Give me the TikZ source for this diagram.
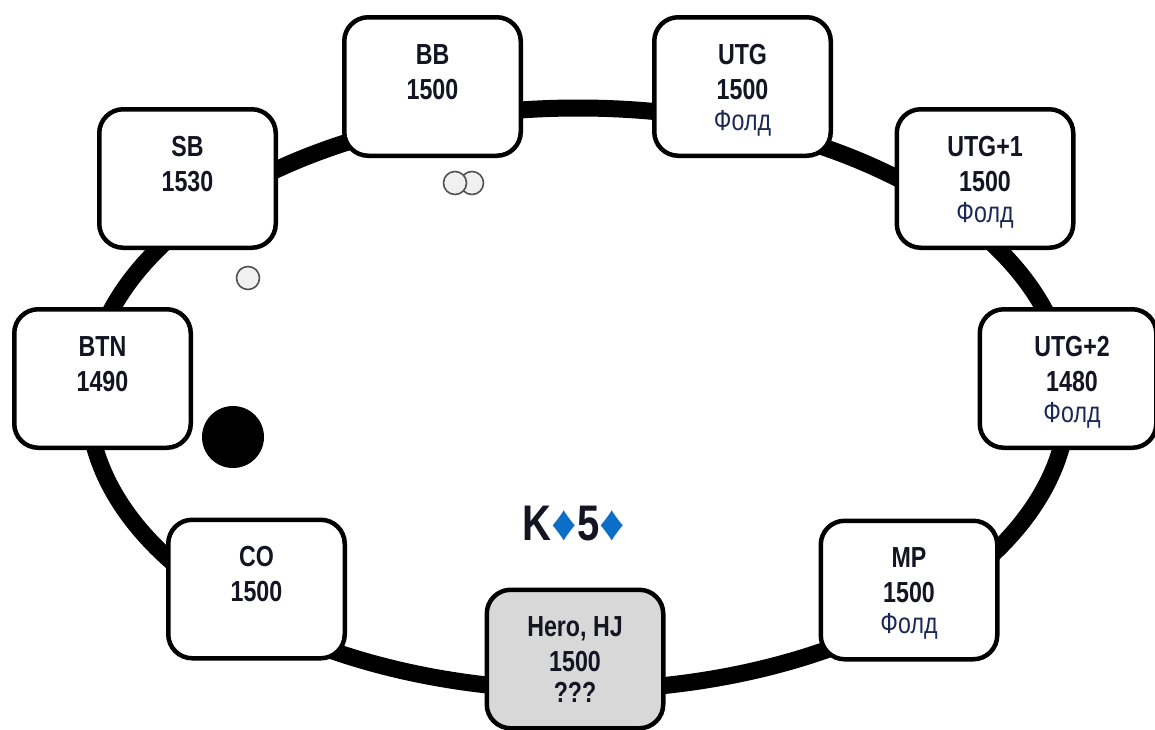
\documentclass[tikz,border=0pt]{standalone}
\usepackage{fontspec}
\setmainfont{Liberation Sans}[FakeStretch=0.8]
\newfontfamily\widefont{Liberation Sans}
\usetikzlibrary{positioning}
\definecolor{ink}{RGB}{20,20,35}
\definecolor{foldc}{RGB}{28,40,85}
\definecolor{suit}{RGB}{12,110,200}
\definecolor{herofill}{RGB}{216,216,216}
\definecolor{chipfill}{RGB}{240,240,240}
\definecolor{chipline}{RGB}{80,80,80}
\tikzset{
  seat/.style={draw=black, line width=4.5pt, rounded corners=24pt, fill=white,
    minimum width=176.5pt, minimum height=138.5pt, inner sep=0pt},
  lbl/.style={inner sep=0pt, align=center, text=ink,
    font=\fontsize{29}{35}\selectfont\bfseries},
  chip/.style={draw=chipline, line width=1.6pt, fill=chipfill},
  tablerim/.style={draw=black, line width=17pt}
}
\newcommand{\dia}{{\color{suit}\widefont\mdseries\fontsize{50}{50}\selectfont ♦}}
\begin{document}
\begin{tikzpicture}[x=1pt,y=-1pt]
\useasboundingbox (0,0) rectangle (1155,729);
% table rim
\draw[tablerim] (578,399) ellipse [x radius=490, y radius=291];
% seats
\node[seat] (bb)   at (432.5,86.5) {};
\node[seat] (utg)  at (742.5,86.5) {};
\node[seat] (sb)   at (187.5,178.5) {};
\node[seat] (utgA) at (985,178.5) {};
\node[seat] (btn)  at (102.5,378.5) {};
\node[seat] (utgB) at (1068,378.5) {};
\node[seat] (co)   at (256.5,589) {};
\node[seat] (mp)   at (909,590) {};
\node[seat, fill=herofill] (hero) at (575,659) {};
% labels
\node[lbl, below=29pt of bb.north]   (bbT)   {BB\\1500};
\node[lbl, below=29pt of utg.north]  (utgT)  {UTG\\1500\\[-4pt]{\color{foldc}\mdseries Фолд}};
\node[lbl, below=29pt of sb.north]   (sbT)   {SB\\1530};
\node[lbl, below=29pt of utgA.north] (utgAT) {UTG+1\\1500\\[-4pt]{\color{foldc}\mdseries Фолд}};
\node[lbl, below=29pt of btn.north]  (btnT)  {BTN\\1490};
\node[lbl, below=29pt of utgB.north, xshift=4pt] (utgBT) {UTG+2\\1480\\[-4pt]{\color{foldc}\mdseries Фолд}};
\node[lbl, below=29pt of co.north]   (coT)   {CO\\1500};
\node[lbl, below=29pt of mp.north]   (mpT)   {MP\\1500\\[-4pt]{\color{foldc}\mdseries Фолд}};
\node[lbl, below=29pt of hero.north] (heroT) {Hero, HJ\\1500\\[-4pt]???};
% chips and dealer button
\draw[chip] (472,183) circle [radius=11.5];
\draw[chip] (455,183) circle [radius=11.5];
\draw[chip] (248,278) circle [radius=11.5];
\fill[black] (233,437) circle [radius=31];
% hero cards
\node[inner sep=0pt, anchor=base, text=ink, font=\fontsize{50}{50}\selectfont\bfseries] (cards) at (574,540)
  {K\dia5\dia};
\end{tikzpicture}
\end{document}
